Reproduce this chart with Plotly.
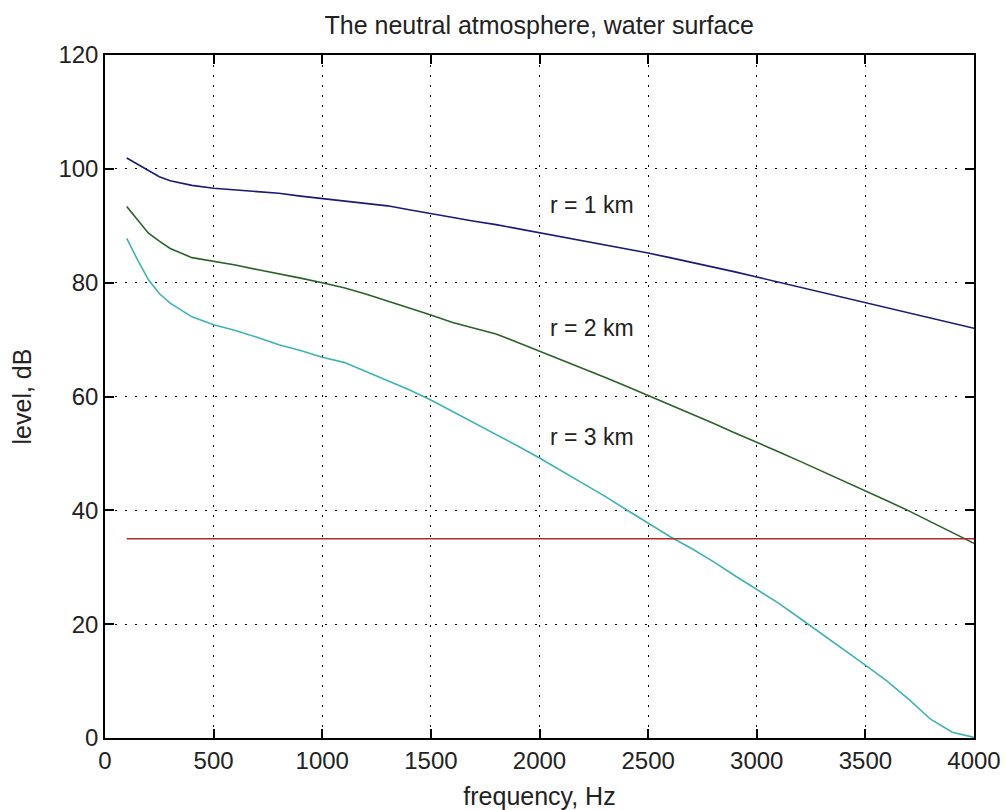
import plotly.graph_objects as go

freq = [100, 150, 200, 250, 300, 400, 500, 600, 700, 800, 900, 1000, 1100, 1200, 1300,
        1400, 1500, 1600, 1700, 1800, 1900, 2000, 2100, 2200, 2300, 2400, 2500, 2600,
        2700, 2800, 2900, 3000, 3100, 3200, 3300, 3400, 3500, 3600, 3700, 3800, 3900, 4000]

level_r1 = [101.9, 100.8, 99.6, 98.6, 97.9, 97.1, 96.6, 96.3, 96.1, 95.7, 95.2, 94.8, 94.4, 94.0, 93.5,
            92.8, 92.1, 91.4, 90.8, 90.2, 89.5, 88.8, 88.1, 87.4, 86.7, 85.9, 85.2, 84.4,
            83.6, 82.8, 81.9, 81.0, 80.1, 79.2, 78.3, 77.4, 76.5, 75.6, 74.7, 73.8, 72.9, 72.0]

level_r2 = [93.4, 91.0, 88.7, 87.3, 86.0, 84.4, 83.8, 83.1, 82.3, 81.6, 80.8, 80.0, 79.1, 78.0, 76.8,
            75.5, 74.3, 73.0, 72.0, 71.0, 69.5, 68.0, 66.5, 65.0, 63.4, 61.8, 60.2, 58.6,
            57.0, 55.3, 53.6, 52.0, 50.3, 48.6, 46.9, 45.2, 43.5, 41.7, 39.9, 38.0, 36.1, 34.2]

level_r3 = [87.8, 84.0, 80.5, 78.1, 76.4, 74.0, 72.6, 71.6, 70.4, 69.1, 68.1, 66.9, 66.0, 64.4, 62.8,
            61.2, 59.4, 57.4, 55.4, 53.4, 51.3, 49.2, 47.0, 44.8, 42.5, 40.1, 37.7, 35.4,
            33.3, 31.0, 28.5, 26.1, 23.7, 21.0, 18.3, 15.5, 12.8, 10.0, 6.8, 3.3, 1.0, 0.1]

threshold_x = [100, 4000]
threshold_y = [35, 35]

label_texts = ["r = 1 km", "r = 2 km", "r = 3 km"]
label_x = [2040, 2040, 2040]
label_y = [93.6, 72.0, 52.8]

x_ticks = [0, 500, 1000, 1500, 2000, 2500, 3000, 3500, 4000]
y_ticks = [0, 20, 40, 60, 80, 100, 120]

FONT = "Liberation Sans, Arial, sans-serif"

fig = go.Figure()
fig.add_trace(go.Scatter(x=freq, y=level_r1, mode="lines", line=dict(color="#1a1a78", width=1.6)))
fig.add_trace(go.Scatter(x=freq, y=level_r2, mode="lines", line=dict(color="#2a622a", width=1.6)))
fig.add_trace(go.Scatter(x=freq, y=level_r3, mode="lines", line=dict(color="#3cb4b4", width=1.6)))
fig.add_trace(go.Scatter(x=threshold_x, y=threshold_y, mode="lines", line=dict(color="#b02a2a", width=1.6)))

for t, xx, yy in zip(label_texts, label_x, label_y):
    fig.add_annotation(x=xx, y=yy, text=t, showarrow=False, xanchor="left", yanchor="middle",
                       font=dict(family=FONT, size=23, color="#222222"))

axis_common = dict(
    showline=True, linecolor="black", linewidth=1.5, mirror="ticks",
    ticks="inside", ticklen=9, tickwidth=1.5, tickcolor="black",
    showgrid=True, gridcolor="black", gridwidth=1, griddash="2px,8px",
    zeroline=False, automargin=False,
    tickfont=dict(family=FONT, size=24, color="#222222"),
)

fig.update_xaxes(range=[0, 4000], tickvals=x_ticks, ticktext=[str(v) for v in x_ticks],
                 title=dict(text="frequency, Hz", font=dict(family=FONT, size=25, color="#222222"), standoff=16),
                 **axis_common)
fig.update_yaxes(range=[0, 120], tickvals=y_ticks, ticktext=[str(v) for v in y_ticks],
                 title=dict(text="level, dB", font=dict(family=FONT, size=25, color="#222222"), standoff=20),
                 **axis_common)

fig.update_layout(
    width=1005, height=810,
    margin=dict(l=105, r=31, t=55, b=72),
    paper_bgcolor="white", plot_bgcolor="white",
    showlegend=False,
    title=dict(text="The neutral atmosphere, water surface", x=0.5365, xanchor="center",
               y=1 - 25 / 810, yanchor="middle", yref="container",
               font=dict(family=FONT, size=25, color="#222222")),
)

fig.write_html("out.html")
